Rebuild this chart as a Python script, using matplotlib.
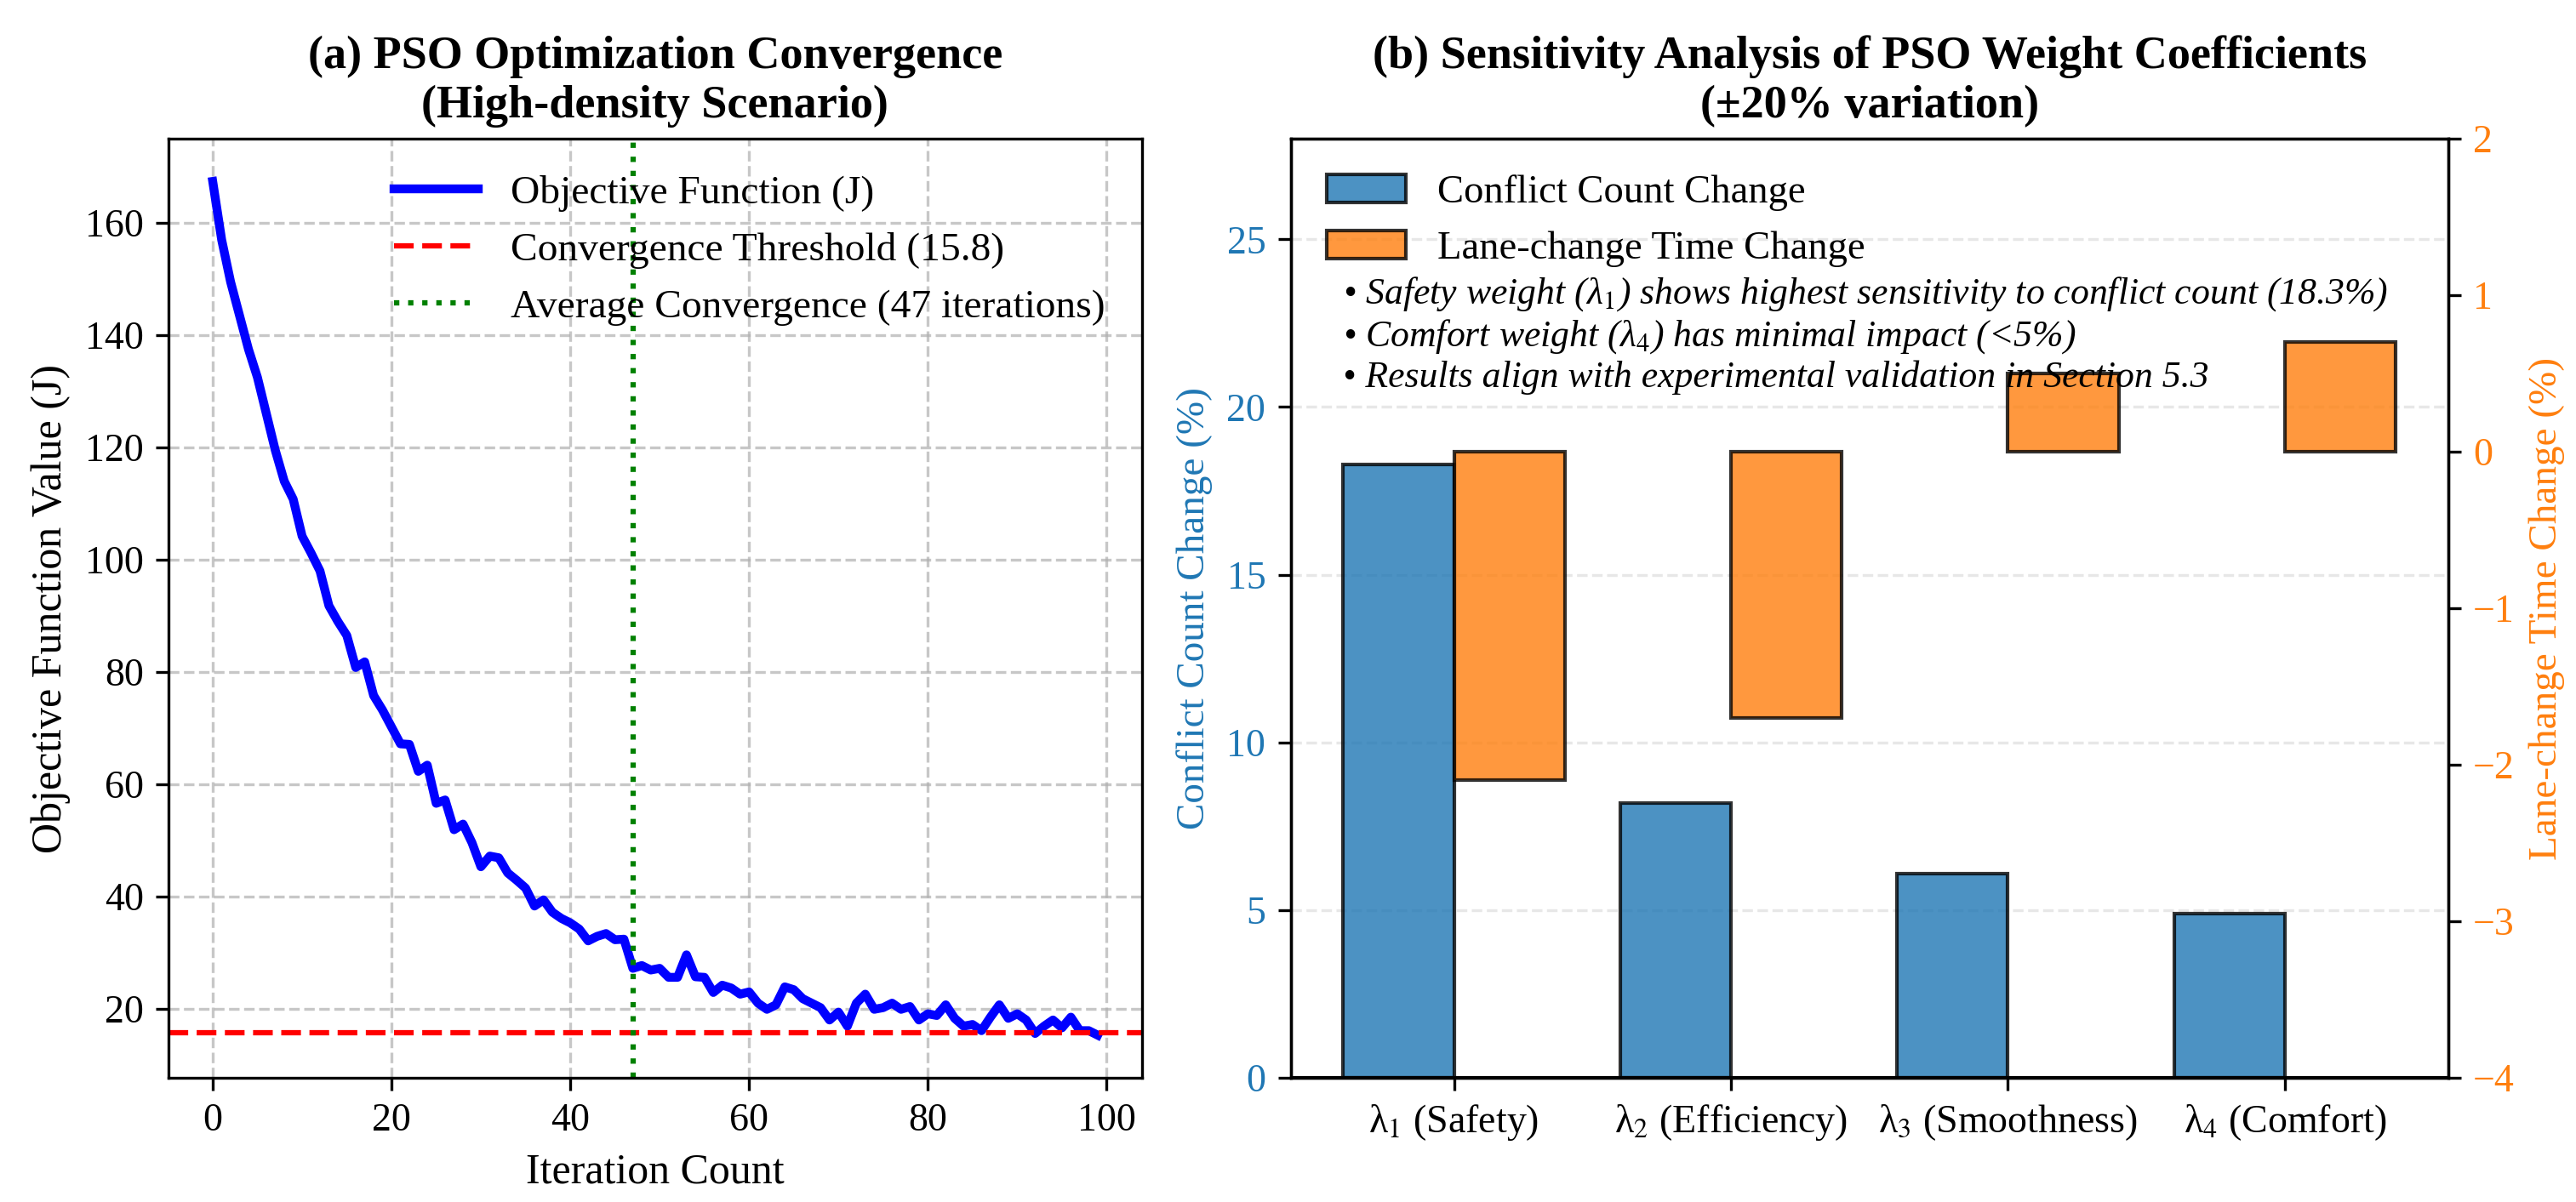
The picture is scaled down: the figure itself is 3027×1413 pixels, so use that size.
import matplotlib
matplotlib.use("Agg")
import matplotlib.pyplot as plt
import numpy as np

plt.rcParams['font.family'] = ['Liberation Serif', 'DejaVu Serif']
plt.rcParams['mathtext.fontset'] = 'stix'

# ---------------- data ----------------
iterations = list(range(100))
objective = [
    167.4, 157.0, 149.5, 143.5, 137.5, 132.5, 126.0, 119.5, 114.0, 110.8,
    104.2, 101.2, 98.0, 91.8, 89.0, 86.5, 80.8, 81.8, 75.8, 73.2,
    70.2, 67.2, 67.1, 62.3, 63.4, 56.6, 57.2, 51.9, 52.9, 49.6,
    45.3, 47.2, 46.9, 44.2, 42.9, 41.5, 38.3, 39.4, 37.2, 36.1,
    35.3, 34.2, 32.1, 32.9, 33.4, 32.3, 32.4, 27.2, 27.7, 26.9,
    27.2, 25.6, 25.6, 29.6, 25.7, 25.6, 22.9, 24.2, 23.7, 22.6,
    23.0, 21.0, 19.9, 20.7, 23.9, 23.4, 21.8, 21.0, 20.2, 18.0,
    19.4, 16.9, 21.0, 22.6, 19.9, 20.2, 21.0, 19.9, 20.4, 18.0,
    19.1, 18.8, 20.7, 18.3, 16.9, 17.2, 16.1, 18.5, 20.7, 18.3,
    19.1, 18.0, 15.6, 16.9, 18.0, 16.6, 18.5, 16.1, 16.1, 15.3,
]
threshold = 15.8
avg_convergence = 47

weights = ['λ$_1$ (Safety)', 'λ$_2$ (Efficiency)',
           'λ$_3$ (Smoothness)', 'λ$_4$ (Comfort)']
conflict_change = [18.3, 8.2, 6.1, 4.9]
lanechange_change = [-2.1, -1.7, 0.5, 0.7]

notes = [
    '• Safety weight (λ$_1$) shows highest sensitivity to conflict count (18.3%)',
    '• Comfort weight (λ$_4$) has minimal impact (<5%)',
    '• Results align with experimental validation in Section 5.3',
]

# ---------------- figure ----------------
fig = plt.figure(figsize=(10.09, 4.71), dpi=300)
ax_a = fig.add_axes([0.0654, 0.1033, 0.3779, 0.7813])
ax_b = fig.add_axes([0.5010, 0.1033, 0.4494, 0.7813])

# (a) convergence
ax_a.plot(iterations, objective, color='blue', linewidth=2.5, label='Objective Function (J)')
ax_a.axhline(threshold, color='red', linestyle='--', linewidth=1.5,
             label=f'Convergence Threshold ({threshold})')
ax_a.axvline(avg_convergence, color='green', linestyle=':', linewidth=1.5,
             label=f'Average Convergence ({avg_convergence} iterations)')
ax_a.set_xlabel('Iteration Count', fontsize=12)
ax_a.set_ylabel('Objective Function Value (J)', fontsize=12)
ax_a.set_title('(a) PSO Optimization Convergence\n(High-density Scenario)',
               fontsize=13, fontweight='bold')
ax_a.grid(True, linestyle='--', alpha=0.7)
ax_a.tick_params(labelsize=11)
ax_a.legend(loc='upper right', frameon=False, fontsize=11.4, handlelength=2.1)

# (b) sensitivity
x = np.arange(len(weights))
w = 0.4
c_blue = '#1f77b4'
c_orange = '#ff7f0e'
b1 = ax_b.bar(x - w / 2, conflict_change, w, color=c_blue, alpha=0.8,
              edgecolor='black', label='Conflict Count Change')
ax_b.axhline(0, color='black', linewidth=1)
ax_b.set_ylim(0, 28)
ax_b.set_ylabel('Conflict Count Change (%)', color=c_blue, fontsize=11.3)
ax_b.tick_params(axis='y', labelcolor=c_blue, labelsize=11)
ax_b.tick_params(axis='x', labelsize=11)
ax_b.set_xticks(x)
ax_b.set_xticklabels(weights)
ax_b.grid(True, axis='y', linestyle='--', alpha=0.3)
ax_b.set_axisbelow(True)

ax_b2 = ax_b.twinx()
b2 = ax_b2.bar(x + w / 2, lanechange_change, w, color=c_orange, alpha=0.8,
               edgecolor='black', label='Lane-change Time Change')
ax_b2.set_ylim(-4, 2)
ax_b2.set_ylabel('Lane-change Time Change (%)', color=c_orange, fontsize=11.3)
ax_b2.tick_params(axis='y', labelcolor=c_orange, labelsize=11)

ax_b.set_title('(b) Sensitivity Analysis of PSO Weight Coefficients\n(±20% variation)',
               fontsize=13, fontweight='bold')
ax_b2.legend([b1, b2], [b1.get_label(), b2.get_label()], loc='upper left',
             frameon=False, fontsize=11.2)
ax_b2.text(0.045, 0.855, '\n'.join(notes), transform=ax_b2.transAxes,
           va='top', ha='left', fontsize=10.5, style='italic', linespacing=1.16,
           zorder=10)

fig.savefig('out.png', dpi=300)
